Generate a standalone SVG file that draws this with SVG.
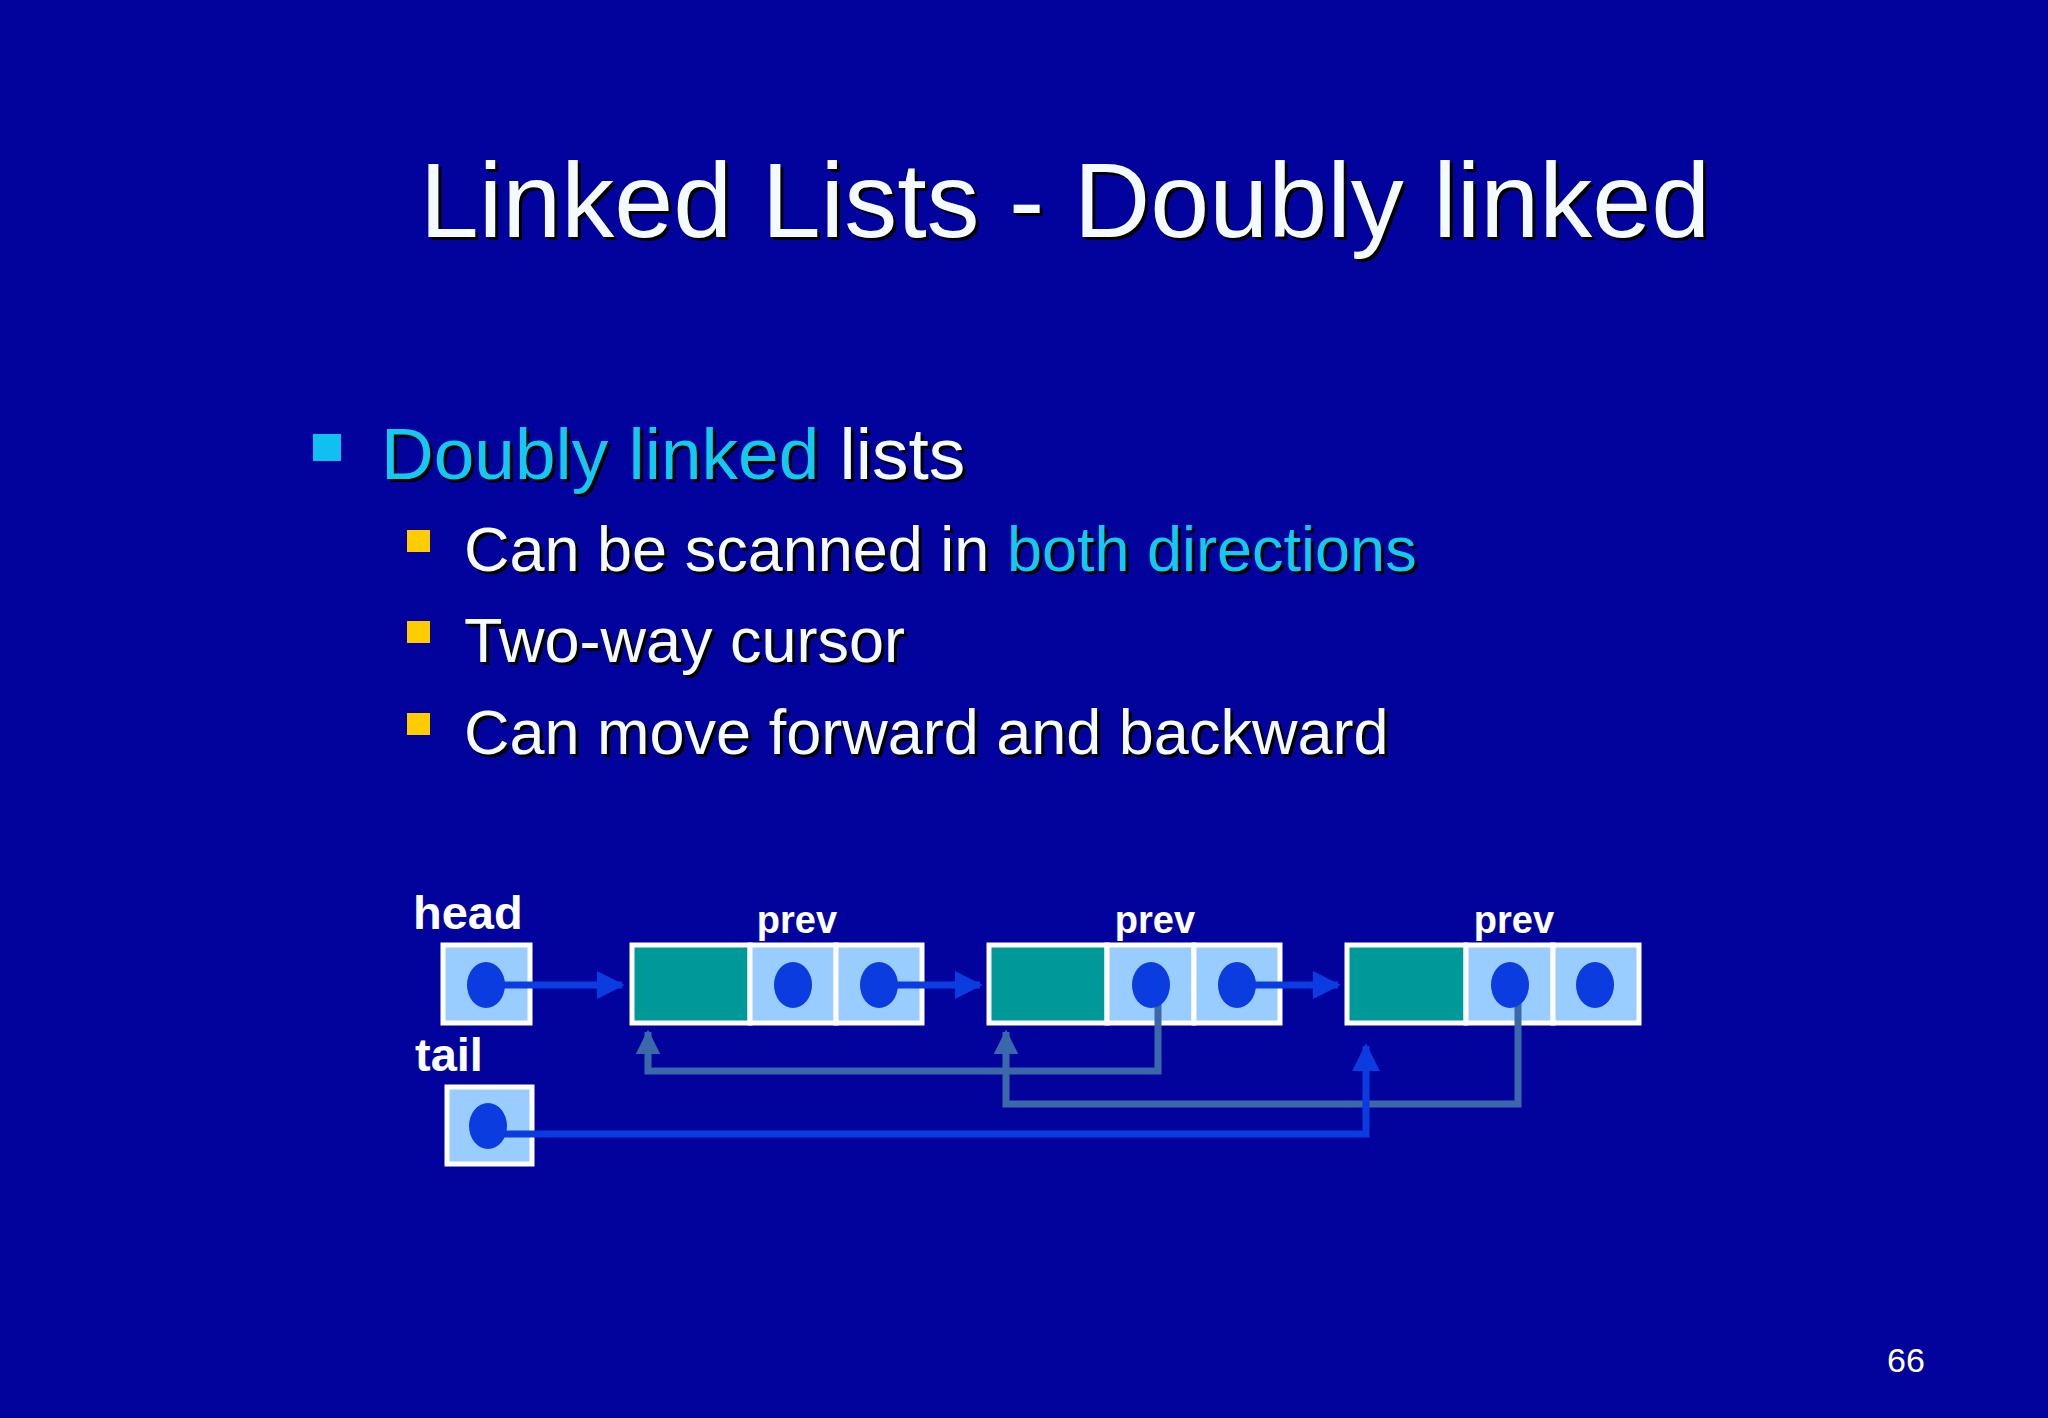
<svg xmlns="http://www.w3.org/2000/svg" width="2048" height="1418" viewBox="0 0 2048 1418">
<style>
text{font-family:"Liberation Sans",Arial,sans-serif}
.sh{fill:#000000}
.w{fill:#f4fbff}
.c{fill:#14c8ee}
.lbl{fill:#ffffff;font-weight:bold}
.cell{fill:#99ccff;stroke:#ffffff;stroke-width:5}
.data{fill:#009999;stroke:#ffffff;stroke-width:5}
.dot{fill:#0a3ce0}
.fw{fill:none;stroke:#0a3ce0;stroke-width:7}
.bk{fill:none;stroke:#3a68a8;stroke-width:7}
</style>
<defs>
<marker id="af" viewBox="0 0 10 10" refX="9" refY="5" markerWidth="4" markerHeight="4" orient="auto" markerUnits="strokeWidth"><path d="M0,0 L10,5 L0,10 z" fill="#0a3ce0"/></marker>
<marker id="ab" viewBox="0 0 10 10" refX="9" refY="5" markerWidth="3.5" markerHeight="3.5" orient="auto" markerUnits="strokeWidth"><path d="M0,0 L10,5 L0,10 z" fill="#3a68a8"/></marker>
</defs>
<rect width="2048" height="1418" fill="#02029c"/>
<g id="title" font-size="106" text-anchor="middle">
<text class="sh" x="1068" y="240">Linked Lists - Doubly linked</text>
<text class="w" x="1065" y="237">Linked Lists - Doubly linked</text>
</g>
<g id="bullets">
<rect x="313" y="434" width="28" height="27" fill="#10c0f0"/>
<text class="sh" x="384" y="482" font-size="73">Doubly linked lists</text>
<text x="381" y="479" font-size="73"><tspan class="c">Doubly linked</tspan><tspan class="w"> lists</tspan></text>
<rect x="407" y="530" width="23" height="22" fill="#ffcc00"/>
<rect x="407" y="621" width="23" height="22" fill="#ffcc00"/>
<rect x="407" y="713" width="23" height="22" fill="#ffcc00"/>
<g font-size="63">
<text class="sh" x="467" y="574">Can be scanned in both directions</text>
<text x="464" y="571"><tspan class="w">Can be scanned in </tspan><tspan class="c">both directions</tspan></text>
<text class="sh" x="467" y="665">Two-way cursor</text>
<text class="w" x="464" y="662">Two-way cursor</text>
<text class="sh" x="467" y="757">Can move forward and backward</text>
<text class="w" x="464" y="754">Can move forward and backward</text>
</g>
</g>
<g id="head">
<text class="lbl" x="413" y="929" font-size="47">head</text>
<rect class="cell" x="443" y="945" width="87" height="78"/>
</g>
<g id="tail">
<text class="lbl" x="415" y="1071" font-size="47">tail</text>
<rect class="cell" x="447" y="1087" width="85" height="77"/>
</g>
<g id="node1">
<text class="lbl" x="797" y="933" font-size="38" text-anchor="middle">prev</text>
<rect class="data" x="632" y="945" width="118" height="78"/>
<rect class="cell" x="750" y="945" width="86" height="78"/>
<rect class="cell" x="836" y="945" width="86" height="78"/>
</g>
<g id="node2">
<text class="lbl" x="1155" y="933" font-size="38" text-anchor="middle">prev</text>
<rect class="data" x="989" y="945" width="118" height="78"/>
<rect class="cell" x="1107" y="945" width="87" height="78"/>
<rect class="cell" x="1194" y="945" width="86" height="78"/>
</g>
<g id="node3">
<text class="lbl" x="1514" y="933" font-size="38" text-anchor="middle">prev</text>
<rect class="data" x="1347" y="945" width="119" height="78"/>
<rect class="cell" x="1466" y="945" width="87" height="78"/>
<rect class="cell" x="1553" y="945" width="86" height="78"/>
</g>
<g id="connectors">
<path class="fw" d="M486,985 H622" marker-end="url(#af)"/>
<path class="fw" d="M879,985 H980" marker-end="url(#af)"/>
<path class="fw" d="M1237,985 H1338" marker-end="url(#af)"/>
<path class="bk" d="M1158,985 V1071 H648 V1032" marker-end="url(#ab)"/>
<path class="bk" d="M1518,995 V1104 H1006 V1032" marker-end="url(#ab)"/>
<path class="fw" d="M488,1134 H1366 V1046" marker-end="url(#af)"/>
</g>
<g id="pointers">
<ellipse class="dot" cx="486" cy="985" rx="19" ry="23"/>
<ellipse class="dot" cx="488" cy="1126" rx="19" ry="23"/>
<ellipse class="dot" cx="793" cy="985" rx="19" ry="23"/>
<ellipse class="dot" cx="879" cy="985" rx="19" ry="23"/>
<ellipse class="dot" cx="1151" cy="985" rx="19" ry="23"/>
<ellipse class="dot" cx="1237" cy="985" rx="19" ry="23"/>
<ellipse class="dot" cx="1510" cy="985" rx="19" ry="23"/>
<ellipse class="dot" cx="1595" cy="985" rx="19" ry="23"/>
</g>
<text x="1906" y="1372" font-size="34" fill="#ffffff" text-anchor="middle">66</text>
</svg>
